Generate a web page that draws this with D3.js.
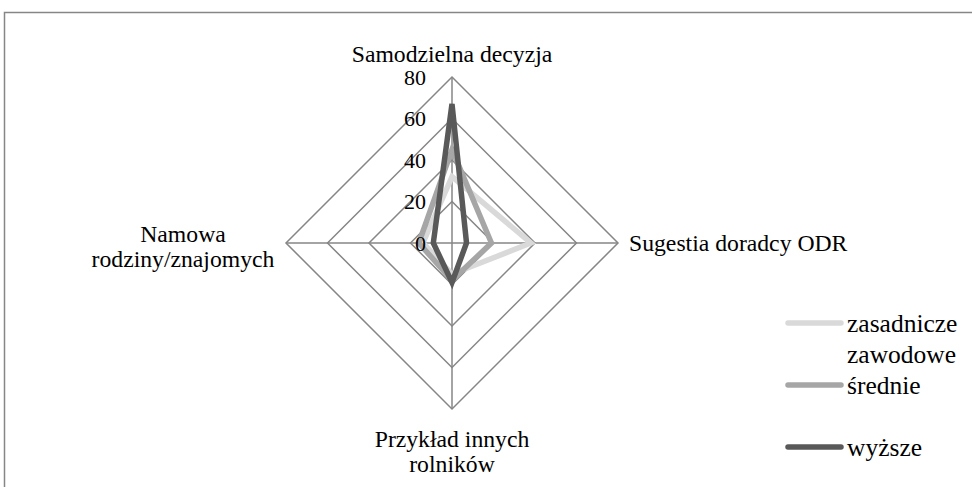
<!DOCTYPE html>
<html>
<head>
<meta charset="utf-8">
<title>Radar</title>
<script src="https://cdn.jsdelivr.net/npm/d3@7"></script>
<style>
  body { margin: 0; background: #fff; }
</style>
</head>
<body>
<script>
// axes go clockwise from the top
var axes = ['Samodzielna decyzja', 'Sugestia doradcy ODR', 'Przykład innych rolników', 'Namowa rodziny/znajomych'];
var ticks = [0, 20, 40, 60, 80];
var seriesNames = ['zasadnicze zawodowe', 'średnie', 'wyższe'];
var zasadnicze = [32, 38, 15, 14];
var srednie = [45, 19, 18, 16];
var wyzsze = [67, 7, 19, 9];

var series = [
  { name: seriesNames[0], values: zasadnicze, color: '#d9d9d9' },
  { name: seriesNames[1], values: srednie, color: '#a6a6a6' },
  { name: seriesNames[2], values: wyzsze, color: '#595959' }
];

var W = 972, H = 487;
var cx = 452, cy = 243;

var svg = d3.select('body').append('svg')
  .attr('width', W)
  .attr('height', H)
  .attr('font-family', 'Liberation Serif');

// outer frame (runs off the right and bottom)
svg.append('rect')
  .attr('x', 4.5).attr('y', 12.5)
  .attr('width', 1000).attr('height', 500)
  .attr('fill', 'none')
  .attr('stroke', '#868686')
  .attr('stroke-width', 1.5);

var r = d3.scaleLinear().domain([0, 80]).range([0, 166]);
var angle = d3.scalePoint().domain(d3.range(axes.length)).range([0, 2 * Math.PI * 3 / 4]);

var g = svg.append('g').attr('transform', 'translate(' + cx + ',' + cy + ')');

var radial = d3.lineRadial()
  .angle(function(d, i) { return angle(i); })
  .radius(function(d) { return r(d); })
  .curve(d3.curveLinearClosed);

// grid rings
g.selectAll('.ring')
  .data(ticks.slice(1))
  .enter().append('path')
  .attr('class', 'ring')
  .attr('d', function(t) { return radial(axes.map(function() { return t; })); })
  .attr('fill', 'none')
  .attr('stroke', '#868686')
  .attr('stroke-width', 1.5);

// spokes
g.selectAll('.spoke')
  .data(axes)
  .enter().append('line')
  .attr('class', 'spoke')
  .attr('x1', 0).attr('y1', 0)
  .attr('x2', function(d, i) { return r(80) * Math.sin(angle(i)); })
  .attr('y2', function(d, i) { return -r(80) * Math.cos(angle(i)); })
  .attr('stroke', '#868686')
  .attr('stroke-width', 1.5);

// series
g.selectAll('.series')
  .data(series)
  .enter().append('path')
  .attr('class', 'series')
  .attr('d', function(s) { return radial(s.values); })
  .attr('fill', 'none')
  .attr('stroke', function(s) { return s.color; })
  .attr('stroke-width', 5.5)
  .attr('stroke-linejoin', 'miter');

// tick labels along the top axis, drawn over the lines
g.selectAll('.tick')
  .data(ticks)
  .enter().append('text')
  .attr('class', 'tick')
  .attr('x', -26)
  .attr('y', function(t) { return -r(t); })
  .attr('dy', '0.35em')
  .attr('text-anchor', 'end')
  .attr('font-size', 22)
  .text(function(t) { return t; });

// axis labels
var labelPos = [
  { x: 0, y: -181, anchor: 'middle', lines: ['Samodzielna decyzja'] },
  { x: 177, y: 8, anchor: 'start', lines: ['Sugestia doradcy ODR'] },
  { x: 0, y: 204, anchor: 'middle', lines: ['Przykład innych', 'rolników'] },
  { x: -269, y: -1, anchor: 'middle', lines: ['Namowa', 'rodziny/znajomych'] }
];
axes.forEach(function(a, i) {
  var p = labelPos[i];
  var t = g.append('text')
    .attr('x', p.x).attr('y', p.y)
    .attr('text-anchor', p.anchor)
    .attr('font-size', 23.7);
  p.lines.forEach(function(l, j) {
    t.append('tspan').attr('x', p.x).attr('dy', j ? 25 : 0).text(l);
  });
});

// legend
var legendY = [323, 385, 447];
var leg = svg.selectAll('.leg')
  .data(series)
  .enter().append('g')
  .attr('class', 'leg')
  .attr('transform', function(d, i) { return 'translate(788,' + legendY[i] + ')'; });

leg.append('line')
  .attr('x1', 0).attr('x2', 53)
  .attr('y1', 0).attr('y2', 0)
  .attr('stroke', function(d) { return d.color; })
  .attr('stroke-width', 5.5)
  .attr('stroke-linecap', 'round');

leg.each(function(d) {
  var words = d.name.split(' ');
  var t = d3.select(this).append('text')
    .attr('x', 59).attr('y', 9)
    .attr('font-size', 25.5);
  words.forEach(function(w, j) {
    t.append('tspan').attr('x', 59).attr('dy', j ? 31 : 0).text(w);
  });
});
</script>
</body>
</html>
